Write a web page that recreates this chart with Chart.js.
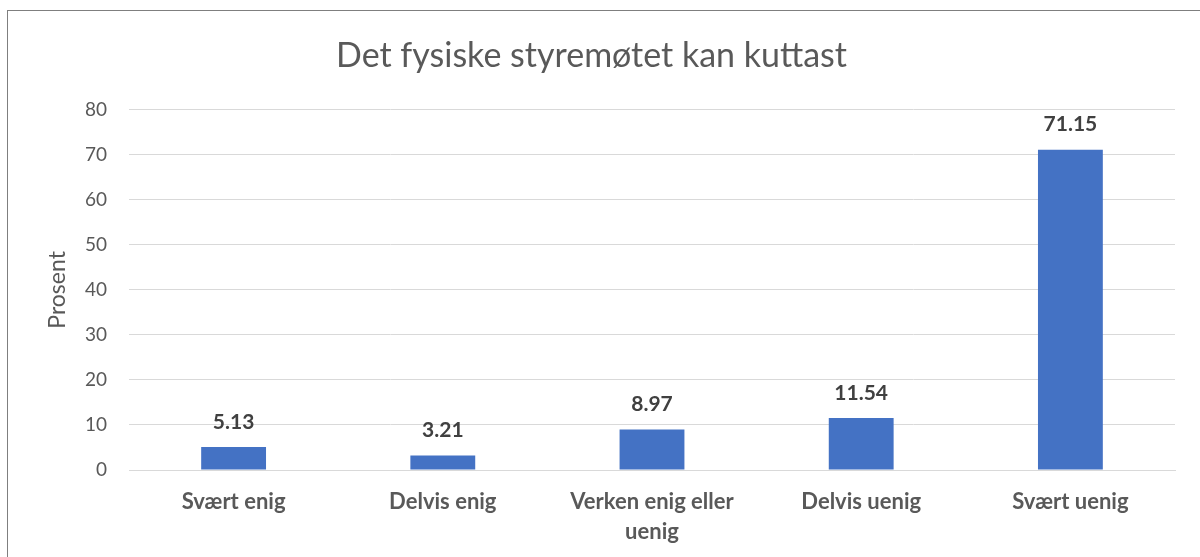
<!DOCTYPE html>
<html>
<head>
<meta charset="utf-8">
<script src="https://cdn.jsdelivr.net/npm/chart.js@4"></script>
<style>
    body {
        margin: 0;
        background: #ffffff;
    }

    #frame {
        position: absolute;
        left: 7px;
        top: 10px;
        width: 1193px;
        height: 547px;
        border-left: 1.5px solid #7f7f7f;
        border-top: 1.5px solid #7f7f7f;
        box-sizing: border-box;
    }
</style>
</head>
<body>
<div id="frame">
    <canvas id="styreChart"></canvas>
</div>

<script>
const categories = [
    "Svært enig",
    "Delvis enig",
    ["Verken enig eller", "uenig"],
    "Delvis uenig",
    "Svært uenig"
];

const prosentValues = [5.13, 3.21, 8.97, 11.54, 71.15];

const yTicks = [0, 10, 20, 30, 40, 50, 60, 70, 80];

const fontFamily = "Lato, 'Open Sans', sans-serif";

// draws the bold value above each bar
const valueLabels = {
    id: "valueLabels",
    afterDatasetsDraw(chart) {
        const ctx = chart.ctx;
        const meta = chart.getDatasetMeta(0);

        ctx.save();
        ctx.font = "bold 21px " + fontFamily;
        ctx.fillStyle = "#404040";
        ctx.textAlign = "center";
        ctx.textBaseline = "middle";

        meta.data.forEach((bar, i) => {
            ctx.fillText(
                prosentValues[i].toFixed(2),
                bar.x,
                bar.y - 25
            );
        });

        ctx.restore();
    }
};

const ctx = document.getElementById("styreChart");

new Chart(ctx, {

    type: "bar",

    data: {
        labels: categories,
        datasets: [
            {
                label: "Prosent",
                data: prosentValues,
                backgroundColor: "#4472C4",
                categoryPercentage: 1,
                barPercentage: 0.31
            }
        ]
    },

    options: {
        responsive: true,
        maintainAspectRatio: false,
        animation: false,
        layout: {
            padding: { left: 0, right: 25, top: 0, bottom: 0 }
        },
        plugins: {
            legend: { display: false },
            tooltip: { enabled: false },
            title: {
                display: true,
                text: "Det fysiske styremøtet kan kuttast",
                color: "#595959",
                font: { family: fontFamily, size: 34, weight: "normal" },
                padding: { top: 25, bottom: 33 }
            }
        },
        scales: {
            x: {
                grid: { display: false, drawTicks: false },
                border: { display: true, color: "#d9d9d9", width: 1 },
                ticks: {
                    color: "#595959",
                    font: {
                        family: fontFamily,
                        size: 22,
                        weight: "bold",
                        lineHeight: 1.36
                    },
                    padding: 17,
                    maxRotation: 0
                },
                afterFit(scale) {
                    scale.height = 87;
                }
            },
            y: {
                min: 0,
                max: 80,
                afterBuildTicks(scale) {
                    scale.ticks = yTicks.map(v => ({ value: v }));
                },
                grid: { color: "#d9d9d9", lineWidth: 1, drawTicks: false },
                border: { display: false },
                ticks: {
                    color: "#595959",
                    font: { family: fontFamily, size: 19 },
                    padding: 22
                },
                title: {
                    display: true,
                    text: "Prosent",
                    color: "#595959",
                    font: { family: fontFamily, size: 23 },
                    padding: { top: 36, bottom: 0 }
                },
                afterFit(scale) {
                    scale.width = 121;
                }
            }
        }
    },

    plugins: [valueLabels]

});
</script>
</body>
</html>
